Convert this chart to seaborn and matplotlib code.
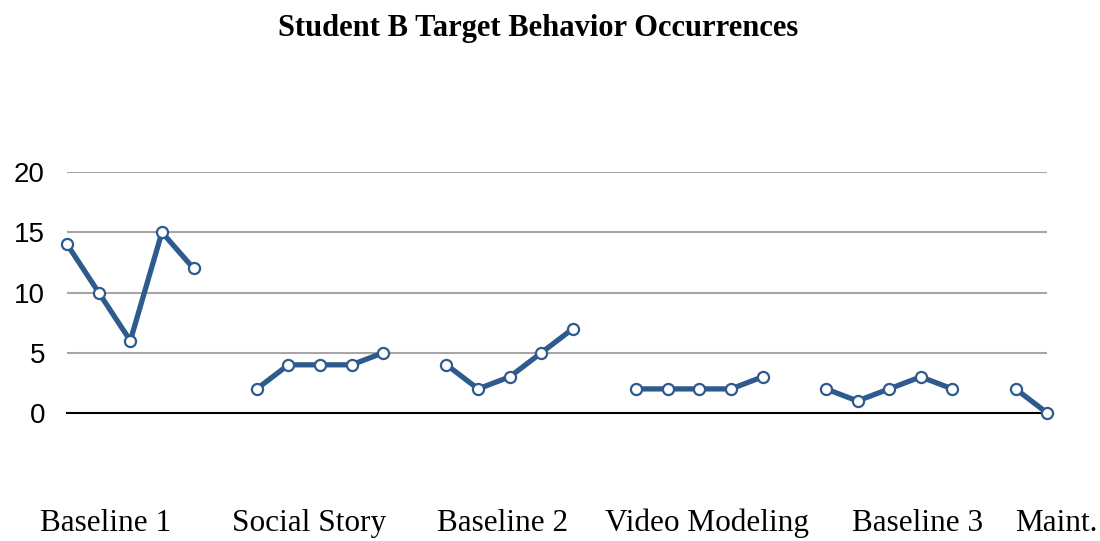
import matplotlib
matplotlib.use("Agg")
import matplotlib.pyplot as plt
import seaborn as sns
import pandas as pd

phases = ["Baseline 1", "Social Story", "Baseline 2", "Video Modeling", "Baseline 3", "Maint."]
baseline1 = [14, 10, 6, 15, 12]
social_story = [2, 4, 4, 4, 5]
baseline2 = [4, 2, 3, 5, 7]
video_modeling = [2, 2, 2, 2, 3]
baseline3 = [2, 1, 2, 3, 2]
maint = [2, 0]
series = [baseline1, social_story, baseline2, video_modeling, baseline3, maint]
label_x = [1.23, 7.65, 13.78, 20.25, 26.9, 31.3]
yticks = [0, 5, 10, 15, 20]

rows = []
pos = 0
for ph, vals in zip(phases, series):
    for v in vals:
        rows.append({"session": pos, "count": v, "phase": ph})
        pos += 1
    pos += 1
df = pd.DataFrame(rows)

sns.set_theme(style="white")
plt.rcParams['font.family'] = ['Liberation Sans', 'DejaVu Sans']
plt.rcParams['text.color'] = 'black'

fig = plt.figure(figsize=(11, 5.41), dpi=100)
ax = fig.add_axes([0.061, 0.2366, 0.891, 0.4454])
color = "#2E5A8E"
for ph in phases:
    sub = df[df["phase"] == ph]
    sns.lineplot(data=sub, x="session", y="count", ax=ax, color=color, lw=3.8,
                 marker="o", markersize=8, markerfacecolor="white",
                 markeredgecolor=color, markeredgewidth=1.6, clip_on=False, zorder=3)

ax.set_xlim(0, 31)
ax.set_ylim(0, 20)
ax.set_yticks(yticks)
ax.set_yticklabels([str(t) for t in yticks], fontsize=20, color="black")
ax.tick_params(axis="y", length=0, pad=16)
ax.set_xticks([])
ax.set_xlabel("")
ax.set_ylabel("")
for s in ["top", "right", "left"]:
    ax.spines[s].set_visible(False)
ax.spines["bottom"].set_color("black")
ax.spines["bottom"].set_linewidth(1.5)
ax.yaxis.grid(True, color="#A6A6A6", lw=1.5)
ax.set_axisbelow(True)

for lx, ph in zip(label_x, phases):
    ax.text(lx, -0.457, ph, transform=ax.get_xaxis_transform(), ha="center", va="center",
            fontsize=22.5, family="Liberation Serif", color="black", clip_on=False)

fig.text(0.489, 0.947, "Student B Target Behavior Occurrences", ha="center", va="center",
         fontsize=22, fontweight="bold", family="Liberation Serif", color="black")

fig.savefig("out.png", dpi=100)
